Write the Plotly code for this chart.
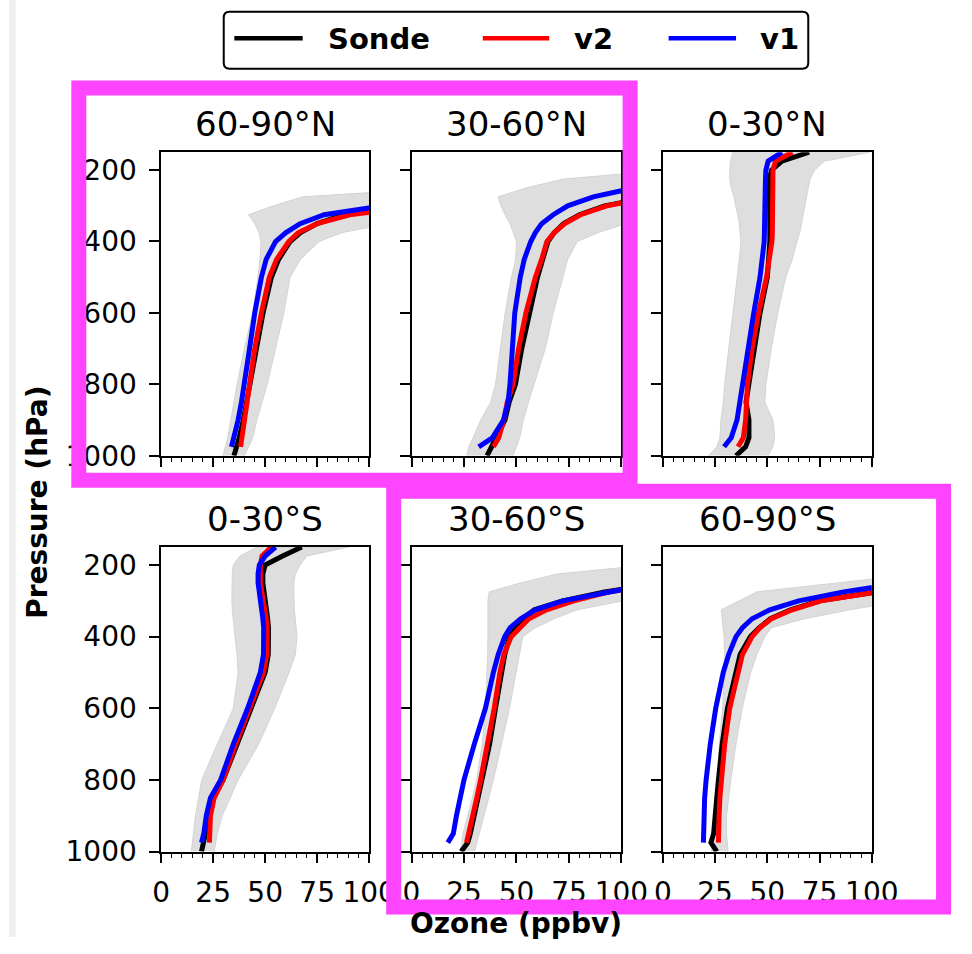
import plotly.graph_objects as go

# ---------------- data ----------------
pressure = [1000, 975, 950, 900, 850, 800, 700, 600, 500, 450, 400, 375, 350, 325, 300, 275, 250, 225, 200, 175, 150]
regions = ["60-90°N", "30-60°N", "0-30°N", "0-30°S", "30-60°S", "60-90°S"]
ozone_ticks = [0, 25, 50, 75, 100]
pressure_ticks = [200, 400, 600, 800, 1000]
series_names = ["Sonde", "v2", "v1"]

# 60-90°N
sonde_60_90N = [35, 36.5, 37.5, 39.5, 41, 42.5, 45.5, 49, 53, 56.5, 62, 67, 75, 88, 112, 145, 185, 230, 280, 330, 380]
v2_60_90N = [None, 38.2, 38.8, 40, 41.2, 42.3, 45, 48.2, 52, 55.5, 61.4, 66, 75, 90.7, 115, 150, 190, 235, 285, 335, 385]
v1_60_90N = [None, 33.8, 35, 37, 38.6, 39.7, 42.5, 45, 48.2, 50.5, 55, 60, 66.8, 78.4, 100.5, 135, 175, 220, 270, 320, 370]
lo_60_90N = [29.7, 31, 32, 33.5, 35, 36.5, 40, 44, 46.5, 47.5, 48, 47, 45, 42, 54, 68, 135, 180, 230, 280, 330]
hi_60_90N = [40, 42, 44, 46, 48.5, 51, 55, 59, 62, 67, 76, 87, 110, 140, 170, 210, 250, 300, 350, 400, 450]

# 30-60°N
sonde_30_60N = [36, 38, 40.5, 44.5, 46.5, 49.5, 52.5, 56, 60, 62.5, 65, 68, 72.5, 80, 92, 114, 150, 190, 240, 290, 340]
v2_30_60N = [None, 39, 41.5, 44, 45.6, 48.4, 51, 54.5, 59, 62, 64.5, 68, 73, 80.5, 93, 115, 150, 190, 240, 290, 340]
v1_30_60N = [None, 32, 38.5, 43.8, 46, 46.9, 48, 49.2, 51.8, 53.7, 56.8, 59, 62, 67.5, 74.4, 86.6, 106, 140, 190, 240, 290]
lo_30_60N = [26.3, 27.3, 29.3, 33, 37.7, 40, 42.3, 44.6, 47.6, 49.6, 50, 48.4, 46.9, 44.6, 42.6, 41.2, 54.5, 72.5, 121.6, 170, 220]
hi_30_60N = [48.4, 50, 51.5, 53.3, 55.7, 58.3, 63.7, 67.5, 72, 74.4, 79, 89, 102, 135, 170, 210, 250, 300, 350, 400, 450]

# 0-30°N
sonde_0_30N = [35, 39.6, 41.2, 41.2, 39.8, 41.2, 43.5, 46.5, 50, 50.8, 51.2, 51.2, 51.2, 51, 50.8, 50.8, 50.8, 51, 52, 57, 70]
v2_0_30N = [None, 36, 38.5, 39.6, 40, 40.5, 42.7, 45.8, 49.6, 51, 52.2, 52.4, 52.4, 52.4, 52.4, 52.4, 52.4, 52.4, 52.7, 53.9, 62]
v1_0_30N = [None, 29.3, 32.7, 35.5, 36.8, 38, 40.4, 43.5, 46.5, 47.8, 48.5, 48.6, 48.6, 48.6, 48.6, 48.6, 48.8, 49.1, 49.3, 50.4, 57]
lo_0_30N = [22, 25.8, 27.3, 27.8, 28.9, 29.6, 31.5, 33.5, 35.8, 36.6, 37.3, 37, 36.6, 35.8, 35, 34, 32.7, 32, 32, 32.4, 33.5]
hi_0_30N = [50.4, 52.7, 53.5, 52.7, 48.8, 49.3, 51.9, 55, 58.8, 61.9, 64.2, 65.5, 66.5, 67.3, 68, 68.8, 69.6, 70.4, 72.7, 77.3, 99]

# 0-30°S
sonde_0_30S = [19.4, 20.5, 21.3, 22.5, 24.8, 29.8, 36.5, 43.1, 50, 51.5, 51.8, 51.6, 51.2, 50.5, 49.7, 49.2, 48.9, 48.9, 50, 58.4, 67.6]
v2_0_30S = [None, 23.2, 23.2, 23.7, 25.5, 29.8, 35.9, 42.7, 49.2, 50.8, 51.2, 51, 50.5, 49.7, 48.9, 48.2, 47.7, 47.7, 47.7, 48.5, 53]
v1_0_30S = [None, 19.4, 20.5, 21.7, 23.7, 28.6, 34.7, 41.6, 47.7, 49.2, 49.5, 49.3, 48.9, 48.3, 47.7, 47.1, 46.6, 46.6, 47.2, 50, 55]
lo_0_30S = [14.5, 15, 15.5, 16.5, 18, 19.5, 27, 34.7, 37, 36.5, 35.5, 35, 34.5, 34.2, 34, 34, 34, 34.2, 34.7, 37.8, 46]
hi_0_30S = [25.5, 26.2, 27, 29.4, 33.2, 37, 46.9, 54.6, 61.5, 64.5, 65.3, 65, 64.5, 64, 63.8, 63.8, 63.8, 64.5, 66.8, 70, 90]

# 30-60°S
sonde_30_60S = [23.7, 26.8, 28, 29.9, 31.7, 33.7, 37.2, 40, 42.6, 44.4, 46.7, 49.5, 53, 58.5, 72, 92, 115, 140, 170, 200, 230]
v2_30_60S = [None, 26.2, 27.3, 29.1, 31.1, 32.9, 36.3, 39.4, 42.1, 44, 47.5, 51.3, 55.9, 64.3, 77.3, 94.2, 115, 140, 170, 200, 230]
v1_30_60S = [None, 17.3, 19.9, 21.4, 23.3, 25, 29.9, 35.2, 39, 41.3, 44.4, 47, 52, 59, 72, 91, 115, 140, 170, 200, 230]
lo_30_60S = [23, 24, 24.5, 26.8, 29, 31, 33.7, 35.2, 36, 36.3, 36.4, 36.4, 36.4, 36.4, 36.4, 37, 52, 69.5, 112, 150, 200]
hi_30_60S = [30, 31, 32.2, 34.5, 36.8, 39, 42.9, 46.7, 49.8, 51.3, 53, 59, 68, 79, 101, 130, 160, 200, 240, 280, 320]

# 60-90°S
sonde_60_90S = [25.8, 23, 24.3, 25.3, 25.8, 26.6, 28.4, 30.9, 34.6, 37, 41.9, 46.2, 51.5, 61.1, 75, 96.5, 120, 150, 180, 210, 240]
v2_60_90S = [None, 26.6, 26.6, 26.9, 27.3, 28.1, 29.6, 32, 35.8, 38.1, 42.7, 46.5, 51.9, 61.9, 75.7, 97.2, 120, 150, 180, 210, 240]
v1_60_90S = [None, 19.4, 19.4, 19.5, 20, 20.7, 22.7, 25.3, 28.9, 31.5, 35, 38.1, 42.7, 51.2, 65, 86.5, 110, 140, 170, 200, 230]
lo_60_90S = [23, 24.5, 24.8, 25, 25.5, 26, 27, 28.6, 29.3, 29.5, 29.3, 29, 28.4, 28, 36.8, 45, 83.6, 121, 160, 200, 240]
hi_60_90S = [31.2, 31, 30.5, 30.5, 31.5, 32.5, 35, 38, 42, 45, 48.8, 52, 68, 89.6, 115, 150, 190, 230, 270, 310, 350]

sonde_all = [sonde_60_90N, sonde_30_60N, sonde_0_30N, sonde_0_30S, sonde_30_60S, sonde_60_90S]
v2_all = [v2_60_90N, v2_30_60N, v2_0_30N, v2_0_30S, v2_30_60S, v2_60_90S]
v1_all = [v1_60_90N, v1_30_60N, v1_0_30N, v1_0_30S, v1_30_60S, v1_60_90S]
lo_all = [lo_60_90N, lo_30_60N, lo_0_30N, lo_0_30S, lo_30_60S, lo_60_90S]
hi_all = [hi_60_90N, hi_30_60N, hi_0_30N, hi_0_30S, hi_30_60S, hi_60_90S]

# ---------------- layout helpers ----------------
W, H = 972, 954
FONT = "DejaVu Sans"
col_px = [(158, 374), (418, 636), (679, 896)]
row_px = [(155, 464), (557, 867)]
colors = ["#000000", "#ff0000", "#0000ff"]
MAGENTA = "#ff44ff"


def fx(px):
    return px / W


def fy(py):
    return 1 - py / H


fig = go.Figure()
layout = {}
annotations = []
shapes = []

for i in range(6):
    r, c = divmod(i, 3)
    xa = "x" if i == 0 else f"x{i+1}"
    ya = "y" if i == 0 else f"y{i+1}"
    lo, hi = lo_all[i], hi_all[i]
    fig.add_trace(go.Scatter(
        x=lo + hi[::-1], y=pressure + pressure[::-1], fill="toself",
        fillcolor="#dedede", line=dict(color="#d3d3d3", width=1),
        mode="lines", xaxis=xa, yaxis=ya, showlegend=False, hoverinfo="skip"))
    for name, vals, col in zip(series_names, [sonde_all[i], v2_all[i], v1_all[i]], colors):
        fig.add_trace(go.Scatter(
            x=vals, y=pressure, mode="lines", name=name,
            line=dict(color=col, width=5), xaxis=xa, yaxis=ya, showlegend=False))

    x0, x1 = col_px[c]
    y0, y1 = row_px[r]
    common = dict(showline=True, mirror=True, linecolor="black", linewidth=1.5,
                  ticks="outside", ticklen=10, tickwidth=1.5, tickcolor="black",
                  showgrid=False, zeroline=False,
                  tickfont=dict(family=FONT, size=28, color="black"))
    layout["xaxis" if i == 0 else f"xaxis{i+1}"] = dict(
        domain=[fx(x0), fx(x1)], range=[0, 100], anchor=ya,
        tickmode="array", tickvals=ozone_ticks, ticktext=[str(t) for t in ozone_ticks],
        showticklabels=(r == 1), ticklabelstandoff=5,
        minor=dict(tickmode="linear", tick0=0, dtick=5, ticks="outside", ticklen=5,
                   tickwidth=1.2, tickcolor="black", showgrid=False),
        **common)
    layout["yaxis" if i == 0 else f"yaxis{i+1}"] = dict(
        domain=[fy(y1), fy(y0)], range=[1000, 150], anchor=xa,
        tickmode="array", tickvals=pressure_ticks, ticktext=[str(t) for t in pressure_ticks],
        showticklabels=(c == 0), ticklabelstandoff=7, **common)

    # panel title
    baseline = 138 if r == 0 else 540
    annotations.append(dict(
        text=regions[i], xref="paper", yref="paper", showarrow=False,
        x=fx((x0 + x1) / 2), y=fy(baseline - 11.8), xanchor="center", yanchor="middle",
        font=dict(family=FONT, size=34, color="black")))

# axis labels
annotations.append(dict(
    text="<b>Pressure (hPa)</b>", xref="paper", yref="paper", showarrow=False,
    x=fx(30), y=fy(511), xanchor="center", yanchor="middle", textangle=-90,
    font=dict(family=FONT, size=28, color="black")))
annotations.append(dict(
    text="<b>Ozone (ppbv)</b>", xref="paper", yref="paper", showarrow=False,
    x=fx(527), y=fy(948 - 0.928 * 28 - 1), xanchor="center", yanchor="top",
    font=dict(family=FONT, size=28, color="black")))

# legend (box, line samples, labels)
lx0, lx1, ly0, ly1, rad = 223, 830, 12, 70, 6


def P(x, y):
    return f"{fx(x):.6f},{fy(y):.6f}"


legend_path = (f"M{P(lx0+rad, ly0)} L{P(lx1-rad, ly0)} Q{P(lx1, ly0)} {P(lx1, ly0+rad)} "
               f"L{P(lx1, ly1-rad)} Q{P(lx1, ly1)} {P(lx1-rad, ly1)} "
               f"L{P(lx0+rad, ly1)} Q{P(lx0, ly1)} {P(lx0, ly1-rad)} "
               f"L{P(lx0, ly0+rad)} Q{P(lx0, ly0)} {P(lx0+rad, ly0)} Z")
shapes.append(dict(type="path", path=legend_path, xref="paper", yref="paper",
                   line=dict(color="black", width=2), fillcolor="white", layer="above"))
legend_lines = [(234, 305), (492, 561), (685, 755)]
legend_text_x = [329, 585, 778]
for (a, b), tx, col, name in zip(legend_lines, legend_text_x, colors, series_names):
    shapes.append(dict(type="line", xref="paper", yref="paper",
                       x0=fx(a), x1=fx(b), y0=fy(39), y1=fy(39),
                       line=dict(color=col, width=4.5), layer="above"))
    annotations.append(dict(
        text=f"<b>{name}</b>", xref="paper", yref="paper", showarrow=False,
        x=fx(tx), y=fy(40), xanchor="left", yanchor="middle",
        font=dict(family=FONT, size=29, color="black")))

# left grey strip of the page
shapes.append(dict(type="rect", xref="paper", yref="paper", x0=0, x1=fx(7), y0=0, y1=1,
                   fillcolor="#efefef", line=dict(width=0), layer="below"))

# magenta highlight boxes
shapes.append(dict(type="rect", xref="paper", yref="paper",
                   x0=fx(72.5), x1=fx(645), y0=fy(489), y1=fy(89.5),
                   line=dict(color=MAGENTA, width=15), fillcolor="rgba(0,0,0,0)", layer="above"))
shapes.append(dict(type="rect", xref="paper", yref="paper",
                   x0=fx(399.5), x1=fx(970.5), y0=fy(923.5), y1=fy(500.2),
                   line=dict(color=MAGENTA, width=15), fillcolor="rgba(0,0,0,0)", layer="above"))

fig.update_layout(
    width=W, height=H, margin=dict(l=0, r=0, t=0, b=0),
    paper_bgcolor="white", plot_bgcolor="white",
    showlegend=False, annotations=annotations, shapes=shapes,
    font=dict(family=FONT, color="black"),
    **layout)

# remove the default page margin synchronously so the 972x954 figure fills the window
body_fix = ("});document.body.style.margin='0px';document.body.style.overflow='hidden';(function(){")
fig.write_html("out.html", config={"displayModeBar": False}, post_script=body_fix)
